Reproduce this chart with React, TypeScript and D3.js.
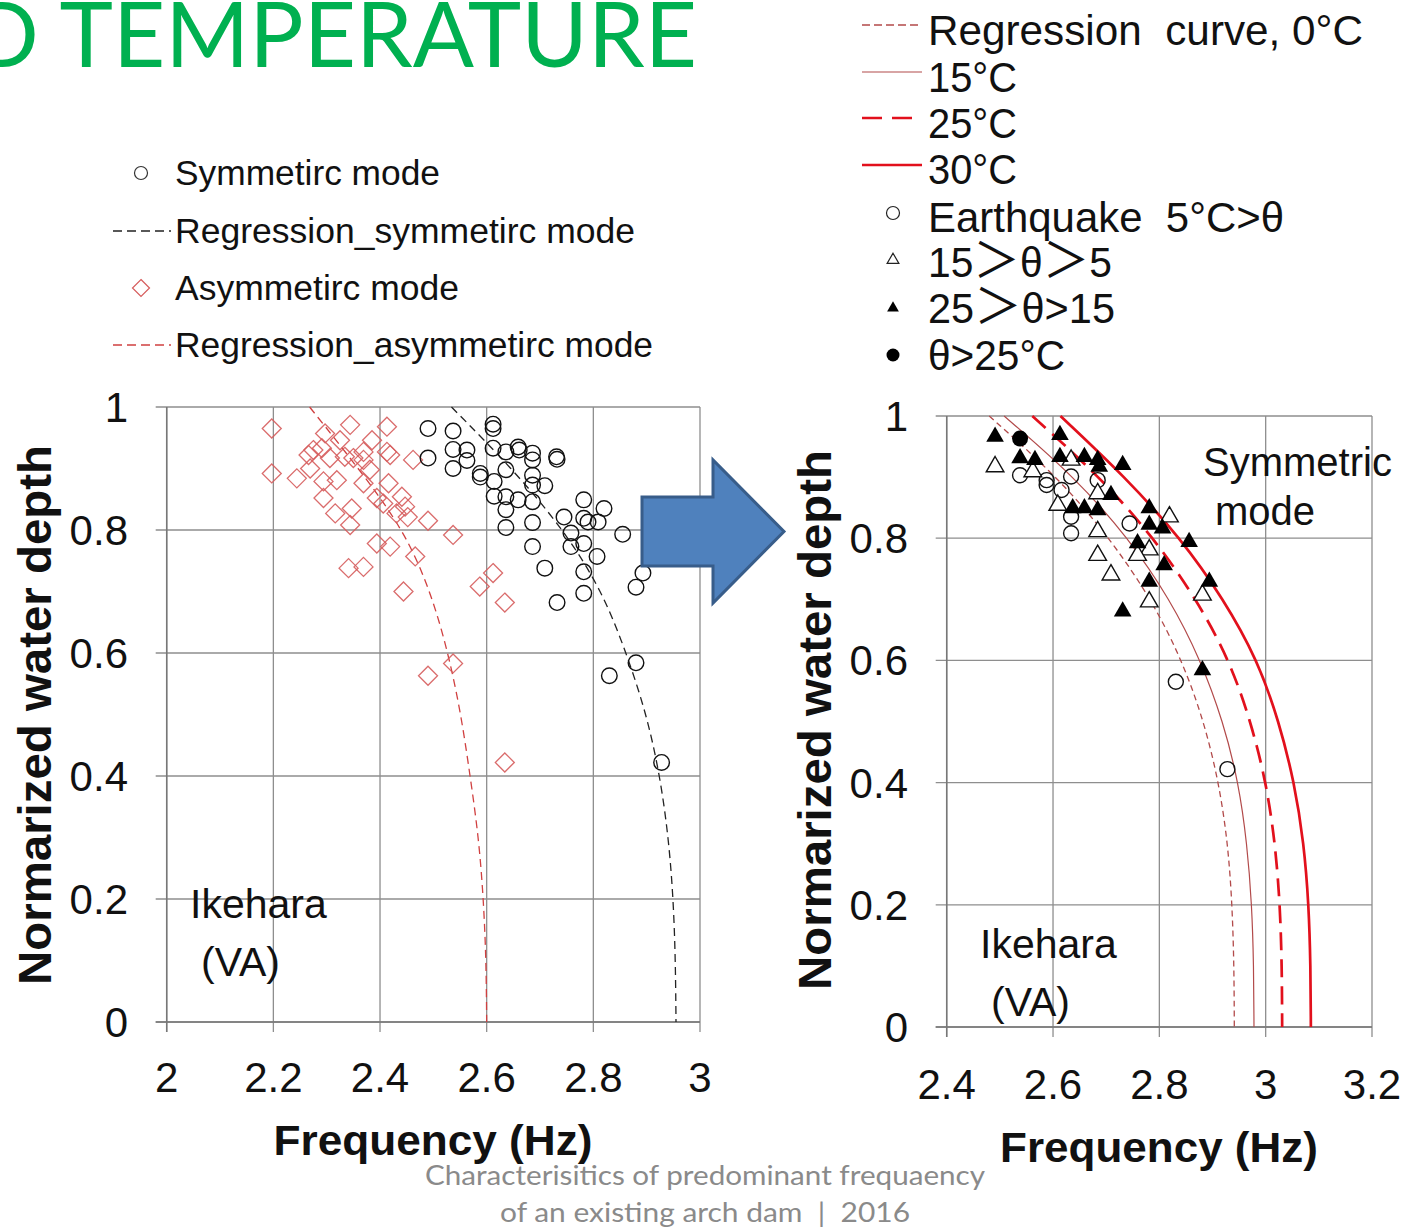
import React from 'react';
import * as d3 from 'd3';

// ---------- data ----------
const depthLevels = [1, 0.9, 0.8, 0.7, 0.6, 0.5, 0.4, 0.3, 0.2, 0.1, 0];

// left panel regression curves (frequency at each depth level)
const regSymFreq = [2.534, 2.648, 2.745, 2.817, 2.862, 2.9, 2.925, 2.941, 2.95, 2.954, 2.955];
const regAsymFreq = [2.268, 2.36, 2.445, 2.495, 2.528, 2.552, 2.569, 2.585, 2.594, 2.599, 2.6];

// right panel regression curves by temperature
const reg0C = [2.48, 2.609, 2.707, 2.785, 2.843, 2.884, 2.912, 2.929, 2.937, 2.9405, 2.941];
const reg15C = [2.508, 2.641, 2.742, 2.82, 2.878, 2.92, 2.949, 2.965, 2.974, 2.9775, 2.978];
const reg25C = [2.561, 2.689, 2.79, 2.87, 2.932, 2.972, 3.001, 3.018, 3.027, 3.0305, 3.031];
const reg30C = [2.614, 2.736, 2.84, 2.921, 2.985, 3.025, 3.054, 3.072, 3.081, 3.0845, 3.085];

// left panel: symmetric mode [freq, depth]
const symmetricPts: [number, number][] = [
  [2.49, 0.965], [2.537, 0.961], [2.612, 0.972], [2.612, 0.965], [2.49, 0.917], [2.537, 0.931],
  [2.563, 0.93], [2.537, 0.9], [2.563, 0.913], [2.588, 0.892], [2.588, 0.886], [2.612, 0.933],
  [2.636, 0.927], [2.659, 0.935], [2.661, 0.93], [2.686, 0.925], [2.686, 0.914], [2.731, 0.919],
  [2.732, 0.915], [2.636, 0.898], [2.614, 0.879], [2.686, 0.889], [2.686, 0.873], [2.709, 0.872],
  [2.614, 0.855], [2.636, 0.854], [2.659, 0.849], [2.686, 0.846], [2.636, 0.833], [2.636, 0.804],
  [2.686, 0.812], [2.745, 0.821], [2.782, 0.849], [2.782, 0.819], [2.79, 0.813], [2.82, 0.835],
  [2.809, 0.813], [2.758, 0.795], [2.758, 0.773], [2.782, 0.778], [2.855, 0.793], [2.686, 0.773],
  [2.709, 0.738], [2.782, 0.732], [2.807, 0.757], [2.782, 0.697], [2.732, 0.682], [2.893, 0.73],
  [2.88, 0.707], [2.88, 0.584], [2.83, 0.563], [2.928, 0.422],
];

// left panel: asymmetric mode [freq, depth]
const asymmetricPts: [number, number][] = [
  [2.197, 0.965], [2.197, 0.892], [2.244, 0.884], [2.269, 0.9], [2.266, 0.922], [2.275, 0.93],
  [2.297, 0.957], [2.291, 0.933], [2.306, 0.917], [2.319, 0.881], [2.294, 0.879], [2.294, 0.852],
  [2.316, 0.827], [2.344, 0.971], [2.334, 0.919], [2.35, 0.917], [2.369, 0.927], [2.369, 0.914],
  [2.347, 0.835], [2.344, 0.808], [2.369, 0.876], [2.381, 0.898], [2.413, 0.968], [2.413, 0.927],
  [2.419, 0.922], [2.416, 0.876], [2.394, 0.852], [2.406, 0.843], [2.441, 0.854], [2.447, 0.838],
  [2.431, 0.827], [2.394, 0.778], [2.419, 0.773], [2.341, 0.738], [2.369, 0.74], [2.444, 0.7],
  [2.466, 0.757], [2.462, 0.914], [2.49, 0.815], [2.537, 0.792], [2.587, 0.708], [2.612, 0.73],
  [2.634, 0.682], [2.537, 0.583], [2.49, 0.563], [2.634, 0.422], [2.452, 0.821], [2.325, 0.946],
  [2.385, 0.946],
];

// right panel: earthquake records by temperature class [freq, depth]
const eqBelow5: [number, number][] = [
  [2.538, 0.903], [2.588, 0.895], [2.588, 0.887], [2.616, 0.879], [2.634, 0.901], [2.684, 0.895],
  [2.634, 0.835], [2.634, 0.808], [2.744, 0.824], [2.831, 0.565], [2.928, 0.422],
];
const eq5to15: [number, number][] = [
  [2.491, 0.917], [2.562, 0.909], [2.634, 0.928], [2.684, 0.873], [2.609, 0.854], [2.684, 0.811],
  [2.684, 0.772], [2.709, 0.74], [2.819, 0.835], [2.781, 0.781], [2.759, 0.772], [2.781, 0.696],
  [2.881, 0.707],
];
const eq15to25: [number, number][] = [
  [2.491, 0.966], [2.613, 0.969], [2.538, 0.931], [2.566, 0.928], [2.613, 0.933], [2.659, 0.933],
  [2.684, 0.928], [2.687, 0.917], [2.731, 0.92], [2.709, 0.871], [2.637, 0.849], [2.659, 0.849],
  [2.684, 0.846], [2.781, 0.849], [2.781, 0.822], [2.806, 0.816], [2.759, 0.792], [2.809, 0.756],
  [2.781, 0.729], [2.731, 0.68], [2.856, 0.794], [2.894, 0.729], [2.881, 0.584],
];
const eqAbove25: [number, number][] = [[2.538, 0.963]];

const leftXTicks = [2, 2.2, 2.4, 2.6, 2.8, 3];
const rightXTicks = [2.4, 2.6, 2.8, 3, 3.2];
const yTicks = [0, 0.2, 0.4, 0.6, 0.8, 1];

const NB = '\u00a0';
const leftLegendLabels = ['Symmetirc mode', 'Regression_symmetirc mode', 'Asymmetirc mode', 'Regression_asymmetirc mode'];
// each label split into parts; "＞" parts are drawn larger
const rightLegendLabels: string[][] = [
  [`Regression${NB}${NB}curve, 0°C`],
  ['15°C'],
  ['25°C'],
  ['30°C'],
  [`Earthquake${NB}${NB}5°C>θ`],
  ['15', '＞', 'θ', '＞', '5'],
  ['25', '＞', 'θ>15'],
  ['θ>25°C'],
];

// ---------- styling ----------
const SANS = '"Liberation Sans", Arial, sans-serif';
const CAL = 'Lato, "Open Sans", sans-serif';
const GRID = '#8e8e8e';
const THIN_RED = '#b24a4a';
const THICK_RED = '#e2101c';
const DIAMOND = '#d65c5c';

function diamondPath(cx: number, cy: number, r: number) {
  return `M${cx},${cy - r}L${cx + r},${cy}L${cx},${cy + r}L${cx - r},${cy}Z`;
}

type PanelProps = {
  x: d3.ScaleLinear<number, number>;
  y: d3.ScaleLinear<number, number>;
  xTicks: number[];
  labelRight: number;
  xLabelBase: number;
};

function Frame({ x, y, xTicks, labelRight, xLabelBase }: PanelProps) {
  const [x0, x1] = x.range();
  const [y0, y1] = y.range();
  return (
    <g>
      {yTicks.map((t) => (
        <line key={'gy' + t} x1={x0 - 11} x2={x1} y1={y(t)} y2={y(t)} stroke={GRID} strokeWidth={1.3} />
      ))}
      {xTicks.map((t) => (
        <line key={'gx' + t} x1={x(t)} x2={x(t)} y1={y1} y2={y0 + 10} stroke={GRID} strokeWidth={1.3} />
      ))}
      <line x1={x0} x2={x0} y1={y1} y2={y0 + 10} stroke="#777" strokeWidth={1.5} />
      <line x1={x0 - 11} x2={x1} y1={y0} y2={y0} stroke="#777" strokeWidth={1.5} />
      {yTicks.map((t) => (
        <text key={'ly' + t} x={labelRight} y={y(t) + 15} textAnchor="end" fontFamily={SANS} fontSize={42} fill="#111">
          {String(t)}
        </text>
      ))}
      {xTicks.map((t) => (
        <text key={'lx' + t} x={x(t)} y={xLabelBase} textAnchor="middle" fontFamily={SANS} fontSize={42} fill="#111">
          {String(t)}
        </text>
      ))}
    </g>
  );
}

export default function App() {
  const xL = d3.scaleLinear().domain([2, 3]).range([166.7, 700]);
  const yL = d3.scaleLinear().domain([0, 1]).range([1022, 407]);
  const xR = d3.scaleLinear().domain([2.4, 3.2]).range([946.7, 1372]);
  const yR = d3.scaleLinear().domain([0, 1]).range([1027, 416]);

  const lineOf = (xs: d3.ScaleLinear<number, number>, ys: d3.ScaleLinear<number, number>, freqs: number[]) =>
    d3
      .line<number>()
      .x((f) => xs(f))
      .y((_, i) => ys(depthLevels[i]))
      .curve(d3.curveBasis)(freqs) || '';

  const tri = d3.symbol().type(d3.symbolTriangle).size(135)() || '';
  const triSmall = d3.symbol().type(d3.symbolTriangle).size(60)() || '';

  const rightLineStyles = [
    { color: THIN_RED, w: 1.3, dash: '6,4' },
    { color: THIN_RED, w: 1.2, dash: undefined },
    { color: THICK_RED, w: 2.7, dash: '18,9' },
    { color: THICK_RED, w: 2.7, dash: undefined },
  ];
  const rightCurves = [reg0C, reg15C, reg25C, reg30C];
  const rightLegendWidths = [435, 89, 89, 89, 356, 184, 187, 137];
  const rightLegendBase = [45, 92, 138, 184, 232, 277, 323, 370];
  const rightLegendSymY = [25, 72, 118, 165, 213, 260, 308, 355];

  const leftLegendWidths = [265, 460, 284, 478];
  const leftLegendY = [173, 231, 288, 345];

  return (
    <svg width={1404} height={1228} style={{ position: 'absolute', left: 0, top: 0, background: '#fff' }}>
      <rect x={0} y={0} width={1404} height={1228} fill="#fff" />

      {/* title */}
      <text x={-30} y={67} fontFamily={CAL} fontSize={92} fill="#00b050" textLength={727} lengthAdjust="spacingAndGlyphs">
        D TEMPERATURE
      </text>

      {/* left legend */}
      <g>
        <circle cx={141} cy={leftLegendY[0]} r={6.5} fill="none" stroke="#333" strokeWidth={1.2} />
        <line x1={113} x2={171} y1={leftLegendY[1]} y2={leftLegendY[1]} stroke="#222" strokeWidth={1.3} strokeDasharray="9,5" />
        <path d={diamondPath(141, leftLegendY[2], 8.5)} fill="none" stroke={DIAMOND} strokeWidth={1.2} />
        <line x1={113} x2={171} y1={leftLegendY[3]} y2={leftLegendY[3]} stroke="#d04040" strokeWidth={1.3} strokeDasharray="9,5" />
        {leftLegendLabels.map((s, i) => (
          <text key={s} x={175} y={leftLegendY[i] + 12} fontFamily={SANS} fontSize={35} fill="#111"
            textLength={leftLegendWidths[i]} lengthAdjust="spacingAndGlyphs">
            {s}
          </text>
        ))}
      </g>

      {/* right legend */}
      <g>
        {rightLineStyles.map((st, i) => (
          <line key={'rl' + i} x1={862} x2={i === 2 ? 918 : 922} y1={rightLegendSymY[i]} y2={rightLegendSymY[i]}
            stroke={st.color} strokeWidth={st.w} strokeDasharray={i === 0 ? '8,4' : i === 2 ? '20,10' : undefined} />
        ))}
        <circle cx={893} cy={rightLegendSymY[4]} r={6.5} fill="none" stroke="#222" strokeWidth={1.2} />
        <path d={triSmall} transform={`translate(893,${rightLegendSymY[5]})`} fill="none" stroke="#222" strokeWidth={1.2} />
        <path d={triSmall} transform={`translate(893,${rightLegendSymY[6]})`} fill="#000" />
        <circle cx={893} cy={rightLegendSymY[7]} r={6.5} fill="#000" />
        {rightLegendLabels.map((parts, i) => (
          <text key={'rt' + i} x={928} y={rightLegendBase[i]} fontFamily={SANS} fontSize={42} fill="#111"
            textLength={rightLegendWidths[i]} lengthAdjust="spacingAndGlyphs">
            {parts.map((p, j) =>
              p === '＞' ? (
                <tspan key={j} fontFamily={'"Noto Sans CJK JP", sans-serif'} fontSize={48}>{p}</tspan>
              ) : (
                <tspan key={j}>{p}</tspan>
              )
            )}
          </text>
        ))}
      </g>

      {/* left panel */}
      <Frame x={xL} y={yL} xTicks={leftXTicks} labelRight={128} xLabelBase={1092} />
      <path d={lineOf(xL, yL, regSymFreq)} fill="none" stroke="#222" strokeWidth={1.3} strokeDasharray="8,5" />
      <path d={lineOf(xL, yL, regAsymFreq)} fill="none" stroke="#d04040" strokeWidth={1.3} strokeDasharray="8,5" />
      {asymmetricPts.map(([f, h], i) => (
        <path key={'a' + i} d={diamondPath(xL(f), yL(h), 9.5)} fill="none" stroke={DIAMOND} strokeWidth={1.3} strokeOpacity={0.9} />
      ))}
      {symmetricPts.map(([f, h], i) => (
        <circle key={'s' + i} cx={xL(f)} cy={yL(h)} r={7.8} fill="none" stroke="#111" strokeWidth={1.4} />
      ))}
      <text x={190} y={918} fontFamily={SANS} fontSize={41} fill="#111">Ikehara</text>
      <text x={201} y={976} fontFamily={SANS} fontSize={41} fill="#111">(VA)</text>
      <text x={433} y={1155} textAnchor="middle" fontFamily={SANS} fontWeight="bold" fontSize={43} fill="#111"
        textLength={319} lengthAdjust="spacingAndGlyphs">Frequency (Hz)</text>
      <text transform="translate(51,715) rotate(-90)" textAnchor="middle" fontFamily={SANS} fontWeight="bold" fontSize={46} fill="#111"
        textLength={540} lengthAdjust="spacingAndGlyphs">
        Normarized water depth
      </text>

      {/* right panel */}
      <Frame x={xR} y={yR} xTicks={rightXTicks} labelRight={908} xLabelBase={1099} />
      {rightCurves.map((c, i) => (
        <path key={'rc' + i} d={lineOf(xR, yR, c)} fill="none" stroke={rightLineStyles[i].color}
          strokeWidth={rightLineStyles[i].w} strokeDasharray={rightLineStyles[i].dash} />
      ))}
      {eqBelow5.map(([f, h], i) => (
        <circle key={'e0' + i} cx={xR(f)} cy={yR(h)} r={7.5} fill="#fff" fillOpacity={0} stroke="#111" strokeWidth={1.4} />
      ))}
      {eq5to15.map(([f, h], i) => (
        <path key={'e1' + i} d={tri} transform={`translate(${xR(f)},${yR(h)})`} fill="#fff" stroke="#111" strokeWidth={1.4} />
      ))}
      {eq15to25.map(([f, h], i) => (
        <path key={'e2' + i} d={tri} transform={`translate(${xR(f)},${yR(h)})`} fill="#000" />
      ))}
      {eqAbove25.map(([f, h], i) => (
        <circle key={'e3' + i} cx={xR(f)} cy={yR(h)} r={8} fill="#000" />
      ))}
      <text x={1203} y={476} fontFamily={SANS} fontSize={40} fill="#111">Symmetric</text>
      <text x={1215} y={525} fontFamily={SANS} fontSize={40} fill="#111">mode</text>
      <text x={980} y={958} fontFamily={SANS} fontSize={41} fill="#111">Ikehara</text>
      <text x={991} y={1016} fontFamily={SANS} fontSize={41} fill="#111">(VA)</text>
      <text x={1159} y={1162} textAnchor="middle" fontFamily={SANS} fontWeight="bold" fontSize={43} fill="#111"
        textLength={318} lengthAdjust="spacingAndGlyphs">Frequency (Hz)</text>
      <text transform="translate(831,720) rotate(-90)" textAnchor="middle" fontFamily={SANS} fontWeight="bold" fontSize={46} fill="#111"
        textLength={540} lengthAdjust="spacingAndGlyphs">
        Normarized water depth
      </text>

      {/* arrow */}
      <path d="M642,497 L713,497 L713,460 L784,531.5 L713,603 L713,566 L642,566 Z" fill="#4f81bd" stroke="#385d8a" strokeWidth={3} strokeLinejoin="miter" />

      {/* footer */}
      <text x={705} y={1185} textAnchor="middle" fontFamily={CAL} fontSize={27} fill="#8a8a8a" textLength={560} lengthAdjust="spacingAndGlyphs">
        Characterisitics of predominant frequaency
      </text>
      <text x={705} y={1222} textAnchor="middle" fontFamily={CAL} fontSize={27} fill="#8a8a8a" textLength={410} lengthAdjust="spacingAndGlyphs">
        {`of an existing arch dam${NB}${NB}|${NB}${NB}2016`}
      </text>
    </svg>
  );
}
